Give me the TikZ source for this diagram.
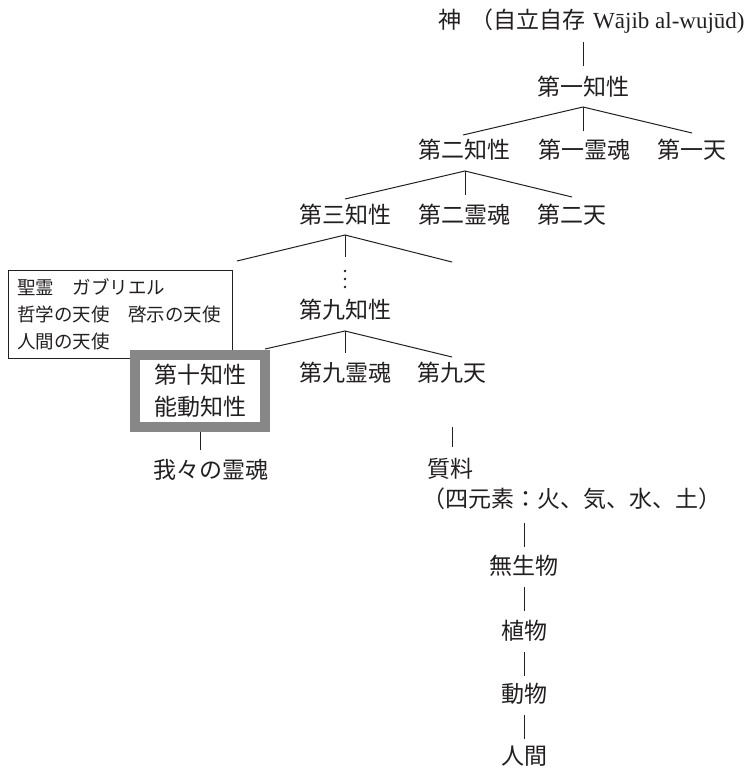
\documentclass[tikz,border=0pt]{standalone}
\usepackage{fontspec}
\setmainfont{Liberation Serif}
\newfontfamily\cjk{Noto Sans CJK JP}
\definecolor{ink}{RGB}{35,31,32}
\definecolor{boxgray}{RGB}{135,135,135}
\begin{document}
\begin{tikzpicture}[x=1pt,y=-1pt,
  every node/.style={inner sep=0pt,text=ink},
  lblbase/.style={font=\cjk\fontsize{23}{32}\selectfont},
  lbl/.style={lblbase,text height=18pt,text depth=3pt},
  conn/.style={draw=ink,line width=1pt}]
\useasboundingbox (0,0) rectangle (751,768);

% title and top
\node[lbl,anchor=west] (god) at (438,21) {神\hspace{9pt}（自立自存\hspace{8pt}{\rmfamily\fontsize{23}{28}\selectfont Wājib al-wujūd)}};
\node[lbl] (k1) at (583,88) {第一知性};
\node[lbl] (k2) at (464,151) {第二知性};
\node[lbl] (s1) at (584,151) {第一霊魂};
\node[lbl] (h1) at (692,151) {第一天};
\node[lbl] (k3) at (345,216) {第三知性};
\node[lbl] (s2) at (464,216) {第二霊魂};
\node[lbl] (h2) at (572,216) {第二天};
\node[lbl] (k9) at (345,311) {第九知性};
\node[lbl] (s9) at (345,374) {第九霊魂};
\node[lbl] (h9) at (452,374) {第九天};
\node[lbl] (ours) at (211,471) {我々の霊魂};
\node[lbl] (matter) at (450,470) {質料};
\node[lbl] (elem) at (572,500) {（四元素：火、気、水、土）};
\node[lbl] (inan) at (524,567) {無生物};
\node[lbl] (plant) at (524,632) {植物};
\node[lbl] (anim) at (524,695) {動物};
\node[lbl] (human) at (524,757) {人間};

% angels box
\node[draw=ink,line width=0.8pt,minimum width=224pt,minimum height=88pt,
      text width=206pt,align=left,font=\cjk\fontsize{18.5}{27}\selectfont]
      (angels) at (120,314) {聖霊　ガブリエル\\哲学の天使　啓示の天使\\人間の天使};

% coordinates for connectors
\coordinate (g1) at (583,42);  \coordinate (g2) at (583,66);
\coordinate (a1) at (583,107); \coordinate (a1l) at (463,135); \coordinate (a1m) at (583,131); \coordinate (a1r) at (692,133);
\coordinate (a2) at (465,171); \coordinate (a2l) at (345,199); \coordinate (a2m) at (465,195); \coordinate (a2r) at (572,197);
\coordinate (a3) at (345,235); \coordinate (a3l) at (237,261); \coordinate (a3m) at (345,257); \coordinate (a3r) at (452,262);
\coordinate (a4) at (345,331); \coordinate (a4l) at (265,349); \coordinate (a4m) at (345,353); \coordinate (a4r) at (452,357);
\coordinate (b10) at (200,450);
\coordinate (h9a) at (452,427); \coordinate (h9b) at (452,447);
\coordinate (e1) at (524,523); \coordinate (e2) at (524,547);
\coordinate (e3) at (524,587); \coordinate (e4) at (524,611);
\coordinate (e5) at (524,652); \coordinate (e6) at (524,676);
\coordinate (e7) at (524,715); \coordinate (e8) at (524,739);

\draw[conn] (g1) -- (g2);
\draw[conn] (a1l) -- (a1) -- (a1r); \draw[conn] (a1) -- (a1m);
\draw[conn] (a2l) -- (a2) -- (a2r); \draw[conn] (a2) -- (a2m);
\draw[conn] (a3l) -- (a3) -- (a3r); \draw[conn] (a3) -- (a3m);
\draw[conn] (a4l) -- (a4) -- (a4r); \draw[conn] (a4) -- (a4m);
\draw[conn] (h9a) -- (h9b);
\draw[conn] (e1) -- (e2);
\draw[conn] (e3) -- (e4);
\draw[conn] (e5) -- (e6);
\draw[conn] (e7) -- (e8);

% vertical dots
\fill[ink] (345,271) circle (1.4pt);
\fill[ink] (345,279) circle (1.4pt);
\fill[ink] (345,287) circle (1.4pt);

% tenth intellect box
\node[draw=boxgray,line width=10pt,fill=white,minimum width=130pt,minimum height=72pt,
      align=center,lblbase] (k10) at (200,391) {第十知性\\能動知性};
\draw[conn] (k10.south) -- (b10);
\end{tikzpicture}
\end{document}
